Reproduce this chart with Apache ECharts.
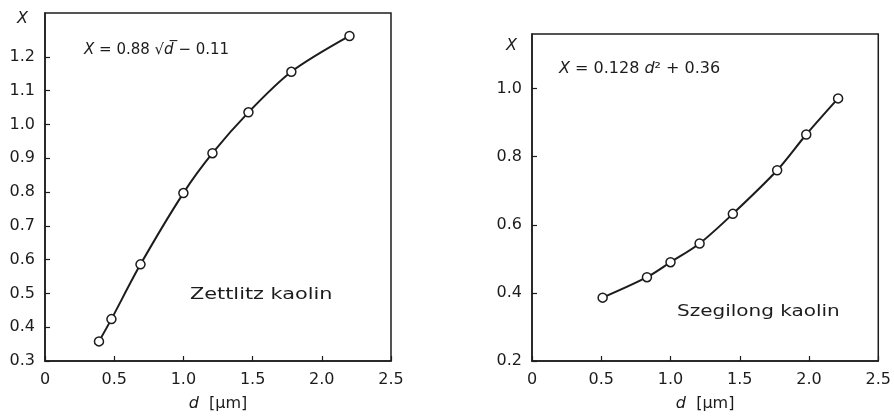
<!DOCTYPE html>
<html><head><meta charset="utf-8">
<script src="https://cdn.jsdelivr.net/npm/echarts@6/dist/echarts.min.js"></script>
<style>html,body{margin:0;padding:0;background:#fff}#c{width:894px;height:417px}</style>
</head><body><div id="c"></div>
<script>
// Zettlitz kaolin (left panel)
var zettlitzD = [0.39, 0.48, 0.69, 1.00, 1.21, 1.47, 1.78, 2.20];
var zettlitzX = [0.358, 0.424, 0.586, 0.797, 0.915, 1.036, 1.156, 1.262];
// Szegilong kaolin (right panel)
var szegilongD = [0.51, 0.83, 1.00, 1.21, 1.45, 1.77, 1.98, 2.21];
var szegilongX = [0.386, 0.446, 0.490, 0.545, 0.632, 0.760, 0.865, 0.971];
var xTicks = [0, 0.5, 1.0, 1.5, 2.0, 2.5];
var leftYTicks = [0.3, 0.4, 0.5, 0.6, 0.7, 0.8, 0.9, 1.0, 1.1, 1.2];
var rightYTicks = [0.2, 0.4, 0.6, 0.8, 1.0];

var FONT = 'DejaVu Sans';
var INK = '#1c1c1c';
function pairs(a, b) { return a.map(function (v, i) { return [v, b[i]]; }); }

function xAxisCfg(gi) {
  return {
    type: 'value', gridIndex: gi, min: 0, max: 2.5, interval: 0.5,
    axisLine: { lineStyle: { color: INK, width: 1.5 } },
    axisTick: { inside: true, length: 5, customValues: xTicks, lineStyle: { color: INK, width: 1.2 } },
    axisLabel: { color: INK, fontFamily: FONT, fontSize: 16, margin: 11, customValues: xTicks,
      formatter: function (v) { return v === 0 ? '0' : v.toFixed(1); } },
    splitLine: { show: false },
    name: '{i|d}  [µm]', nameLocation: 'middle', nameGap: 35,
    nameTextStyle: { color: INK, fontFamily: FONT, fontSize: 16,
      rich: { i: { fontStyle: 'italic', fontFamily: FONT, fontSize: 16, color: INK } } }
  };
}
function yAxisCfg(gi, min, max, interval, ticks, margin) {
  return {
    type: 'value', gridIndex: gi, min: min, max: max, interval: interval,
    axisLine: { show: true, lineStyle: { color: INK, width: 1.5 } },
    axisTick: { show: true, inside: true, length: 5, customValues: ticks, lineStyle: { color: INK, width: 1.2 } },
    axisLabel: { color: INK, fontFamily: FONT, fontSize: 16, margin: margin, customValues: ticks,
      formatter: function (v) { return v.toFixed(1); } },
    splitLine: { show: false }
  };
}
function lineSeries(gi, data) {
  return {
    type: 'line', xAxisIndex: gi, yAxisIndex: gi, data: data, smooth: 0.3,
    symbol: 'circle', symbolSize: 9,
    lineStyle: { color: INK, width: 2 },
    itemStyle: { color: '#fff', borderColor: INK, borderWidth: 1.5 },
    z: 3
  };
}
function gtext(left, top, text, size, extra) {
  var o = { type: 'text', left: left, top: top, z: 10,
    style: { text: text, fill: INK, fontFamily: FONT, fontSize: size,
      rich: { i: { fontStyle: 'italic', fontFamily: FONT, fontSize: size, fill: INK } } } };
  return Object.assign(o, extra || {});
}

var chart = echarts.init(document.getElementById('c'));
chart.setOption({
  backgroundColor: '#fff',
  animation: false,
  grid: [
    { left: 45, right: 503, top: 13, bottom: 49, show: true, borderColor: INK, borderWidth: 1.5, backgroundColor: 'transparent' },
    { left: 532, right: 11, top: 34, bottom: 49, show: true, borderColor: INK, borderWidth: 1.5, backgroundColor: 'transparent' }
  ],
  xAxis: [xAxisCfg(0), xAxisCfg(1)],
  yAxis: [yAxisCfg(0, 0.3, 1.33, 0.1, leftYTicks, 10), yAxisCfg(1, 0.2, 1.16, 0.2, rightYTicks, 10)],
  series: [lineSeries(0, pairs(zettlitzD, zettlitzX)), lineSeries(1, pairs(szegilongD, szegilongX))],
  graphic: [
    gtext(17, 11, '{i|X}', 16),
    gtext(506, 38, '{i|X}', 16),
    gtext(84, 43, '{i|X} = 0.88 √{i|d̅} − 0.11', 15),
    gtext(559, 61, '{i|X} = 0.128 {i|d}² + 0.36', 16),
    gtext(190, 287, 'Zettlitz kaolin', 16, { scaleX: 1.3 }),
    gtext(677, 304, 'Szegilong kaolin', 16, { scaleX: 1.25 })
  ]
});
</script></body></html>
